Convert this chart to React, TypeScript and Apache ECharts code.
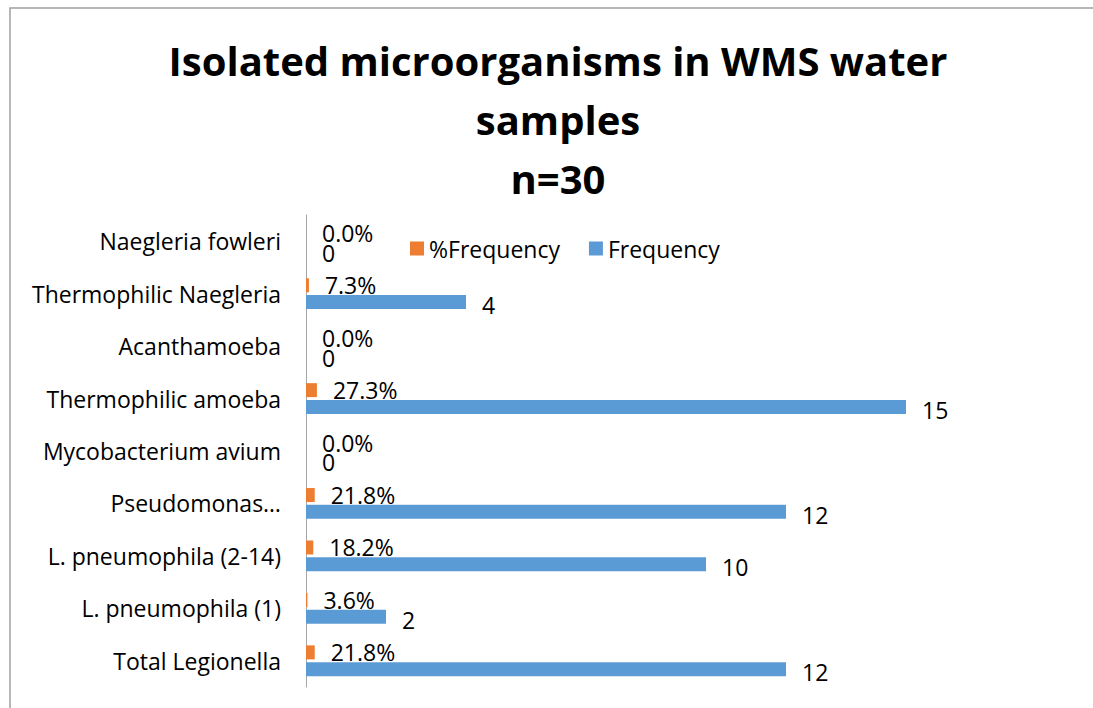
import React, { useEffect, useRef } from "react";
import * as echarts from "echarts";

const categories = [
  "Total Legionella",
  "L. pneumophila (1)",
  "L. pneumophila (2-14)",
  "Pseudomonas…",
  "Mycobacterium avium",
  "Thermophilic amoeba",
  "Acanthamoeba",
  "Thermophilic Naegleria",
  "Naegleria fowleri",
];
const frequency = [12, 2, 10, 12, 0, 15, 0, 4, 0];
const pctFrequency = [0.218, 0.036, 0.182, 0.218, 0, 0.273, 0, 0.073, 0];
const titleText = "Isolated microorganisms in WMS water\nsamples\nn=30";
const FONT = "Open Sans";
const FS = 23;

export default function App() {
  const ref = useRef<HTMLDivElement>(null);
  useEffect(() => {
    document.body.style.margin = "0";
    const chart = echarts.init(ref.current!, null, { renderer: "svg" });
    chart.setOption({
      animation: false,
      backgroundColor: "#fff",
      textStyle: { fontFamily: FONT },
      title: {
        text: titleText,
        left: 553,
        textAlign: "center",
        top: 26,
        textStyle: {
          fontFamily: FONT,
          fontWeight: "bold",
          fontSize: 40,
          lineHeight: 59,
          color: "#000",
        },
      },
      graphic: [
        {
          type: "rect",
          shape: { x: 10, y: 8, width: 1200, height: 800 },
          style: { fill: "none", stroke: "#a0a0a0", lineWidth: 1.5 },
          silent: true,
          z: -1,
        },
      ],
      legend: {
        data: ["%Frequency", "Frequency"],
        left: 405,
        top: 232,
        itemWidth: 14,
        itemHeight: 14,
        itemGap: 29,
        icon: "rect",
        textStyle: { fontFamily: FONT, fontSize: FS, color: "#000" },
      },
      grid: { left: 306, right: 187, top: 215, bottom: 21, containLabel: false },
      xAxis: {
        type: "value",
        min: 0,
        max: 15,
        show: false,
        splitLine: { show: false },
      },
      yAxis: {
        type: "category",
        data: categories,
        axisLine: { show: true, lineStyle: { color: "#a6a6a6", width: 1 } },
        axisTick: { show: false },
        axisLabel: {
          margin: 25,
          fontFamily: FONT,
          fontSize: FS,
          color: "#000",
        },
      },
      series: [
        {
          name: "%Frequency",
          type: "bar",
          data: pctFrequency,
          barWidth: 14,
          barGap: "20%",
          itemStyle: { color: "#ED7D31" },
          label: {
            show: true,
            position: "right",
            distance: 16,
            fontFamily: FONT,
            fontSize: FS,
            color: "#000",
            formatter: (p: any) => (p.value * 100).toFixed(1) + "%",
          },
        },
        {
          name: "Frequency",
          type: "bar",
          data: frequency,
          barWidth: 14,
          barGap: "20%",
          itemStyle: { color: "#5B9BD5" },
          label: {
            show: true,
            position: "right",
            distance: 16,
            offset: [0, 3],
            fontFamily: FONT,
            fontSize: FS,
            color: "#000",
          },
        },
      ],
    });
    return () => chart.dispose();
  }, []);
  return <div ref={ref} style={{ width: 1093, height: 708 }} />;
}
